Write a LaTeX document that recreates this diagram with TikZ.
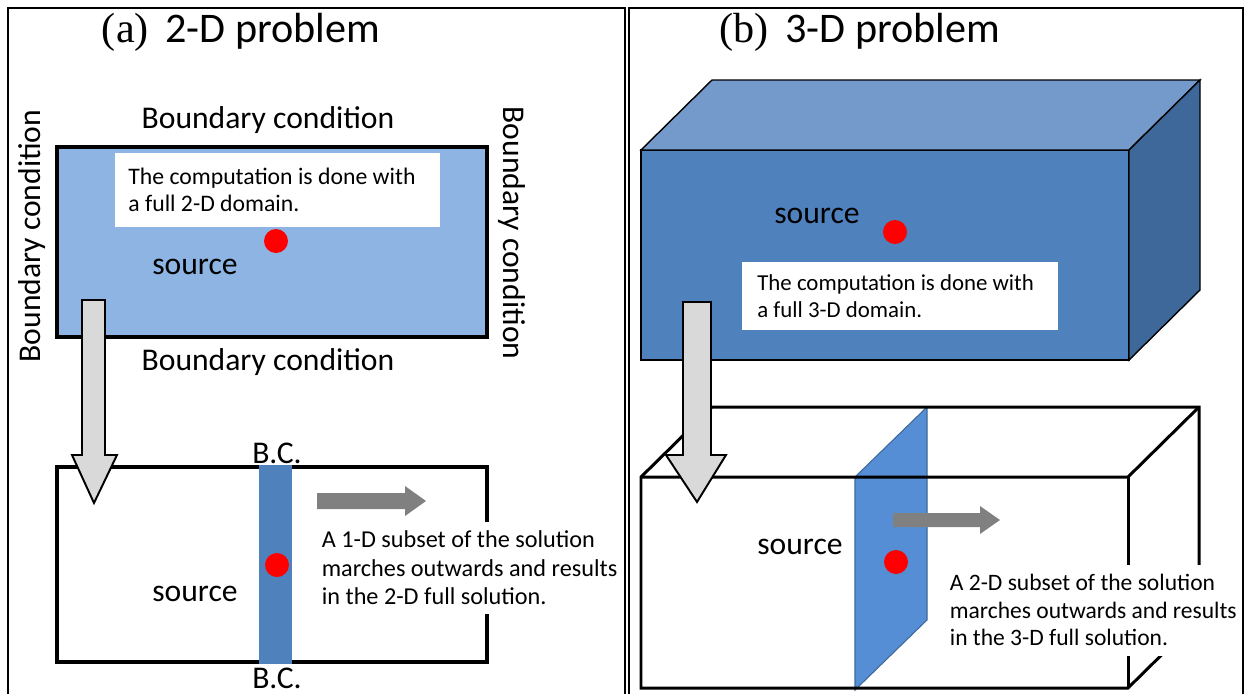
\documentclass[tikz,border=0pt]{standalone}
\usepackage{fontspec}
\setmainfont{Carlito}
\newfontfamily\romanpart{Liberation Serif}
\usetikzlibrary{positioning}

\definecolor{paleblue}{RGB}{141,180,226}
\definecolor{stripblue}{RGB}{79,129,189}
\definecolor{topblue}{RGB}{115,154,202}
\definecolor{sideblue}{RGB}{62,104,153}
\definecolor{sliceblue}{RGB}{85,142,213}
\definecolor{arrowgray}{RGB}{217,217,217}
\definecolor{pushgray}{RGB}{128,128,128}

\begin{document}
\begin{tikzpicture}[x=0.02cm, y=-0.02cm,
        every node/.style={inner sep=0pt},
        paneltitle/.style={font=\fontsize{24}{27}\selectfont},
        bclabel/.style={font=\fontsize{18}{21}\selectfont},
        notetext/.style={font=\fontsize{13.5}{15.5}\selectfont, align=left},
        marchtext/.style={font=\fontsize{13.8}{16.3}\selectfont, align=left, fill=white},
        srcdot/.style={circle, fill=red, minimum size=0.48cm},
        panel/.style={line width=1.1pt},
        rim/.style={line width=2.3pt},
        wire/.style={line width=1.7pt},
        downarrow/.style={draw=black, line width=1.1pt, fill=arrowgray},
        pusharrow/.style={fill=pushgray}
    ]
    \useasboundingbox (0,0) rectangle (1245,694);

    \node[paneltitle] (titleA) at (241,32) {{\romanpart (a)}\, 2-D problem};
    \node[paneltitle] (titleB) at (860,32) {{\romanpart (b)}\, 3-D problem};

    % (a) full 2-D domain
    \draw[rim, fill=paleblue] (57,147) rectangle (487,337);
    \fill[white] (115,153) rectangle (440,227);
    \node[notetext, anchor=west] (fullA) at (128,190)
        {The computation is done with\\a full 2-D domain.};
    \node[srcdot] (dotA) at (276,241) {};
    \node[bclabel] (srcA) at (195,267) {source};
    \node[bclabel] (bcTop) at (268,120) {Boundary condition};
    \node[bclabel] (bcBot) at (268,362) {Boundary condition};
    \node[bclabel, rotate=90] (bcLeft) at (32,236) {Boundary condition};
    \node[bclabel, rotate=-90] (bcRight) at (512,233) {Boundary condition};

    % (a) marching 1-D subset
    \draw[rim] (57,467) rectangle (487,662);
    \fill[stripblue] (259,465) rectangle (292,664);
    \node[srcdot] (dotA2) at (277,565) {};
    \node[bclabel] (srcA2) at (195,594) {source};
    \node[bclabel] (bcUp) at (277,453) {B.C.};
    \node[bclabel] (bcDown) at (277,678) {B.C.};
    \node[marchtext, anchor=west, inner xsep=2pt, inner ysep=0.17cm] (marchA) at (318,568)
        {A 1-D subset of the solution\\marches outwards and results\\in the 2-D full solution.};
    \fill[pusharrow] (317,493) -- (405,493) -- (405,486) -- (426,501) -- (405,516) -- (405,509) -- (317,509) -- cycle;
    \draw[downarrow] (82,300) -- (105,300) -- (105,455) -- (117,455) -- (94,503) -- (72,455) -- (82,455) -- cycle;

    % (b) full 3-D domain
    \draw[line width=0.8pt, fill=stripblue] (641,150) rectangle (1129,360);
    \draw[line width=0.8pt, fill=topblue] (641,150) -- (712,80) -- (1200,80) -- (1129,150) -- cycle;
    \draw[line width=0.8pt, fill=sideblue] (1129,150) -- (1200,80) -- (1200,290) -- (1129,360) -- cycle;
    \node[bclabel] (srcB) at (817,216) {source};
    \node[srcdot] (dotB) at (895,232) {};
    \fill[white] (742,262) rectangle (1058,330);
    \node[notetext, anchor=west, font=\fontsize{13}{15.3}\selectfont] (fullB) at (757,296)
        {The computation is done with\\a full 3-D domain.};

    % (b) marching 2-D subset
    \draw[line width=0.6pt, draw=sideblue, fill=sliceblue] (855,477) -- (927,407) -- (927,620) -- (855,690) -- cycle;
    \draw[wire] (641,688) -- (641,477) -- (712,407) -- (1199,407) -- (1199,618) -- (1128,688) -- cycle;
    \draw[wire] (641,477) -- (1128,477) -- (1199,407);
    \draw[wire] (1128,477) -- (1128,688);
    \node[bclabel] (srcB2) at (800,547) {source};
    \node[srcdot] (dotB2) at (896,562) {};
    \node[marchtext, anchor=west, inner xsep=2pt, inner ysep=0.2cm, font=\fontsize{13.4}{15.5}\selectfont] (marchB) at (946,610)
        {A 2-D subset of the solution\\marches outwards and results\\in the 3-D full solution.};
    \fill[pusharrow] (893,513) -- (980,513) -- (980,506) -- (1000,520) -- (980,534) -- (980,527) -- (893,527) -- cycle;
    \draw[downarrow] (683,302) -- (711,302) -- (711,455) -- (726,455) -- (697,502) -- (666,455) -- (683,455) -- cycle;

    % Panel frames on top
    \draw[panel] (8,694) -- (8,8) -- (625,8) -- (625,694);
    \draw[panel] (629,694) -- (629,8) -- (1243,8) -- (1243,694);
\end{tikzpicture}
\end{document}
